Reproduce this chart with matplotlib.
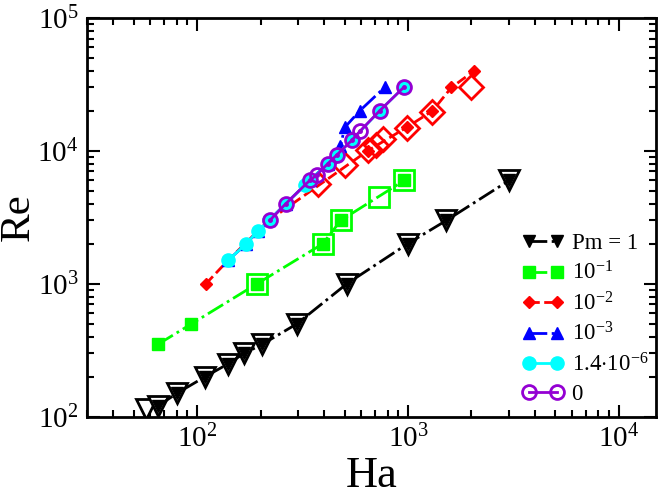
import matplotlib
matplotlib.use("Agg")
import matplotlib.pyplot as plt

plt.rcParams['font.family'] = ['Liberation Serif', 'DejaVu Serif']
plt.rcParams['mathtext.fontset'] = 'custom'
plt.rcParams['mathtext.rm'] = 'Liberation Serif'
plt.rcParams['mathtext.it'] = 'Liberation Serif:italic'

# Pm = 1 (black triangles)
ha_pm1 = [65, 80, 109, 140, 167, 203, 297, 512, 995, 1521, 3020]
re_pm1 = [120, 150, 200, 250, 300, 350, 500, 1000, 2000, 3000, 6000]
ha_pm1_open = [57, 65, 80, 109, 140, 167, 203, 297, 512, 995, 1521, 3020]
re_pm1_open = [114, 120, 150, 200, 250, 300, 350, 500, 1000, 2000, 3000, 6000]

# Pm = 1e-1 (green squares)
ha_pm01 = [65, 94, 192, 394, 480, 961]
re_pm01 = [350, 500, 1000, 2000, 3000, 6000]
ha_pm01_open = [192, 394, 480, 725, 961]
re_pm01_open = [1000, 2000, 3000, 4500, 6000]

# Pm = 1e-2 (red diamonds)
ha_pm02 = [110, 140, 219, 643, 984, 1306, 1607, 2060]
re_pm02 = [1000, 1500, 3000, 10000, 15000, 20000, 30000, 40000]
ha_pm02_open = [373, 501, 643, 705, 760, 984, 1306, 1995]
re_pm02_open = [5600, 7900, 10200, 11000, 12200, 14900, 19600, 30000]

# Pm = 1e-3 (blue triangles)
ha_pm03 = [140, 171, 194, 219, 263, 342, 416, 478, 501, 590, 774]
re_pm03 = [1500, 2000, 2500, 3000, 4000, 6000, 8000, 10800, 15000, 20000, 30000]

# Pm = 1.4e-6 (cyan circles)
ha_pm06 = [140, 171, 194, 219, 263, 324, 342, 416, 459, 541, 733, 953]
re_pm06 = [1500, 2000, 2500, 3000, 4000, 5500, 6000, 8000, 9300, 12000, 20000, 30000]

# Pm = 0 (violet open circles)
ha_pm0 = [221, 263, 342, 369, 416, 459, 541, 590, 733, 953]
re_pm0 = [3000, 4000, 6000, 6600, 8000, 9300, 12000, 14000, 20000, 30000]

labels = ["Pm = 1", r"$10^{-1}$", r"$10^{-2}$", r"$10^{-3}$",
          r"$1.4{\cdot}10^{-6}$", "0"]

fig = plt.figure(figsize=(6.58, 4.98), dpi=100)
ax = fig.add_axes([0.132, 0.163, 0.865, 0.801])

violet = '#9400d3'

# open markers (no line)
ax.plot(ha_pm1_open, re_pm1_open, 'v', ms=15, mfc='white', mec='black', mew=2, zorder=3)
ax.plot(ha_pm01_open, re_pm01_open, 's', ms=14, mfc='none', mec='#00ff00', mew=2, zorder=3)
ax.plot(ha_pm02_open, re_pm02_open, 'D', ms=12, mfc='none', mec='red', mew=2, zorder=3)

l1, = ax.plot(ha_pm1, re_pm1, 'v-.', color='black', ms=8, lw=2, zorder=4)
l2, = ax.plot(ha_pm01, re_pm01, 's-.', color='#00ff00', ms=8, lw=2, zorder=4)
l3, = ax.plot(ha_pm02, re_pm02, 'D--', color='red', ms=6, lw=2, zorder=4)
l4, = ax.plot(ha_pm03, re_pm03, '^-.', color='blue', ms=8, lw=2, zorder=4)
l5, = ax.plot(ha_pm06, re_pm06, 'o-', color='cyan', ms=9.5, lw=2, zorder=5)
l6, = ax.plot(ha_pm0, re_pm0, 'o-', color=violet, ms=10, mfc='none', mew=2, lw=2, zorder=6)
ax.plot(ha_pm0, re_pm0, 'o', color=violet, ms=2.5, lw=0, zorder=6)

ax.set_xscale('log')
ax.set_yscale('log')
ax.set_xlim(30, 15000)
ax.set_ylim(100, 1e5)

ax.set_xlabel("Ha", fontsize=32, labelpad=2)
ax.set_ylabel("Re", fontsize=31, labelpad=0)

ax.tick_params(which='both', direction='in', top=True, right=True, labelsize=21, width=1.5)
ax.tick_params(which='major', length=9, pad=6)
ax.tick_params(which='minor', length=5)
for s in ax.spines.values():
    s.set_linewidth(2)

leg = ax.legend([l1, l2, l3, l4, l5, l6], labels,
                loc='upper left', bbox_to_anchor=(0.765, 0.46),
                frameon=False, fontsize=16.5, numpoints=2, handlelength=1.8,
                handletextpad=0.35, labelspacing=0.32, borderpad=0, borderaxespad=0)

fig.savefig("out.png", dpi=100)
